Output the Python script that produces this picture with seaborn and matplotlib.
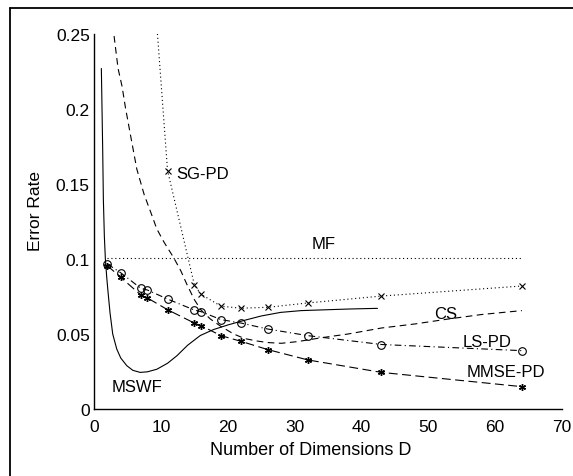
import numpy as np
import pandas as pd
import matplotlib
matplotlib.use("Agg")
import matplotlib.pyplot as plt
from matplotlib.lines import Line2D
import seaborn as sns

# Dimensions where the PD methods were evaluated
pd_dims = [2, 4, 7, 8, 11, 15, 16, 19, 22, 26, 32, 43, 64]
mmse_pd = [0.0955, 0.0878, 0.0760, 0.0740, 0.0662, 0.0573, 0.0556, 0.0489, 0.0451, 0.0396, 0.0327, 0.0244, 0.0149]
ls_pd = [0.0967, 0.0908, 0.0805, 0.0793, 0.0733, 0.0660, 0.0649, 0.0596, 0.0573, 0.0533, 0.0489, 0.0430, 0.0389]

sg_dims = [8, 11, 15, 16, 19, 22, 26, 32, 43, 64]
sg_pd = [0.340, 0.159, 0.083, 0.0765, 0.0685, 0.0672, 0.0678, 0.0707, 0.0753, 0.082]

mf_dims = [2, 64]
mf = [0.101, 0.101]

cs_dims = [2.8, 3.6, 4.2, 4.7, 5.4, 6.4, 7.5, 8.5, 9.4, 10.5, 11.9, 13.0, 13.9, 15.0, 16.0,
           17.4, 19.0, 20.9, 22.5, 24.4, 26.0, 28.0, 30.4, 34.0, 38.0, 43.0, 48.0, 53.0, 58.0, 64.0]
cs = [0.256, 0.227, 0.215, 0.201, 0.184, 0.160, 0.143, 0.131, 0.120, 0.111, 0.101, 0.092, 0.083, 0.073, 0.066,
      0.060, 0.055, 0.050, 0.047, 0.0453, 0.0443, 0.0438, 0.0449, 0.0475, 0.050, 0.054, 0.0567, 0.060, 0.063, 0.0656]

mswf_dims = [1.1, 1.2, 1.3, 1.4, 1.55, 1.7, 1.9, 2.1, 2.4, 2.8, 3.4, 4.0, 4.9, 5.8, 6.9, 8.0, 9.4, 11.0,
             12.4, 14.0, 15.9, 17.9, 20.0, 22.4, 25.0, 27.9, 31.0, 35.0, 38.5, 42.4]
mswf = [0.227, 0.200, 0.173, 0.140, 0.115, 0.100, 0.088, 0.078, 0.064, 0.050, 0.040, 0.034, 0.0289, 0.0258,
        0.0244, 0.0248, 0.0265, 0.0305, 0.0355, 0.0425, 0.049, 0.053, 0.056, 0.059, 0.062, 0.0644, 0.0656,
        0.0662, 0.0667, 0.0671]

x_ticks = [0, 10, 20, 30, 40, 50, 60, 70]
y_ticks = [0, 0.05, 0.1, 0.15, 0.2, 0.25]
y_tick_labels = ["0", "0.05", "0.1", "0.15", "0.2", "0.25"]

sns.set_theme(style="white")
plt.rcParams["font.family"] = ["Liberation Sans", "DejaVu Sans"]

fig = plt.figure(figsize=(5.73, 4.77), dpi=100)
ax = fig.add_axes([94 / 573, 1 - 410 / 477, 468 / 573, 375 / 477])

lw = 0.8
ink = "black"
sns.lineplot(x=mswf_dims, y=mswf, ax=ax, color=ink, lw=lw, linestyle="-", sort=False)
sns.lineplot(x=cs_dims, y=cs, ax=ax, color=ink, lw=lw, linestyle=(0, (6, 4)), sort=False)
sns.lineplot(x=mf_dims, y=mf, ax=ax, color=ink, lw=lw, linestyle=(0, (1, 2.5)))
sns.lineplot(x=sg_dims, y=sg_pd, ax=ax, color=ink, lw=lw, linestyle=(0, (1, 2.5)),
             marker="x", markersize=4.5, markeredgewidth=0.8, markeredgecolor=ink)
sns.lineplot(x=pd_dims, y=ls_pd, ax=ax, color=ink, lw=lw, linestyle=(0, (6, 3, 1, 3)),
             marker="o", markersize=5.5, markerfacecolor="none", markeredgecolor=ink, markeredgewidth=0.8)
sns.lineplot(x=pd_dims, y=mmse_pd, ax=ax, color=ink, lw=lw, linestyle=(0, (8, 4)),
             marker=(6, 2, 0), markersize=5, markeredgewidth=1.0, markeredgecolor=ink)

ax.set_xlim(0, 70)
ax.set_ylim(0, 0.25)
ax.set_xticks(x_ticks)
ax.set_yticks(y_ticks)
ax.set_yticklabels(y_tick_labels)
ax.tick_params(direction="in", length=4, width=0.8, labelsize=12.5, colors=ink)
ax.tick_params(axis="x", pad=7)
ax.tick_params(axis="y", pad=3)
sns.despine(ax=ax)
for s in ["left", "bottom"]:
    ax.spines[s].set_color(ink)
    ax.spines[s].set_linewidth(1.0)

ax.set_xlabel("Number of Dimensions D", fontsize=13, color=ink, va="top")
ax.set_ylabel("Error Rate", fontsize=12.5, color=ink)
ax.xaxis.set_label_coords(0.464, -0.085)
ax.yaxis.set_label_coords(-0.11, 0.53)

lab_kw = dict(fontsize=12, color=ink, ha="center", va="center")
ax.text(16.3, 0.157, "SG-PD", **lab_kw)
ax.text(34.3, 0.110, "MF", **lab_kw)
ax.text(52.6, 0.0637, "CS", **lab_kw)
ax.text(58.8, 0.045, "LS-PD", **lab_kw)
ax.text(61.6, 0.025, "MMSE-PD", **lab_kw)
ax.text(6.5, 0.015, "MSWF", **lab_kw)

# scan frame around the figure
fig.add_artist(Line2D([10 / 573, 10 / 573], [0, 1 - 9 / 477], color=ink, lw=1.3))
fig.add_artist(Line2D([10 / 573, 1], [1 - 9 / 477, 1 - 9 / 477], color=ink, lw=1.3))

fig.savefig("out.png", dpi=100, facecolor="white")
